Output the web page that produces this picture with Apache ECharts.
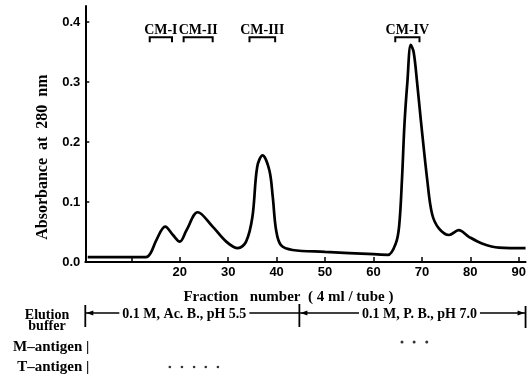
<!DOCTYPE html>
<html><head><meta charset="utf-8">
<script src="https://cdn.jsdelivr.net/npm/echarts@6/dist/echarts.min.js"></script>
<style>html,body{margin:0;padding:0;background:#fff}#c{width:529px;height:377px}</style>
</head><body><div id="c"></div><script>
// ---- data ----
const fractions = [1, 13, 14, 15.2, 17, 18.6, 20, 21.4, 23.7, 26.8, 29.6, 32, 33.7, 35, 36, 37.1, 38.5, 39.2, 39.9, 40.9, 43.3, 50, 60, 63, 64.6, 65.3, 65.9, 66.4, 67.0, 67.7, 68.3, 69.0, 69.8, 71.1, 72.1, 73.5, 75.6, 77.6, 79.7, 82.4, 85.9, 91.4];
const absorbance = [0.008, 0.008, 0.015, 0.037, 0.059, 0.045, 0.034, 0.053, 0.083, 0.059, 0.034, 0.023, 0.034, 0.075, 0.159, 0.178, 0.153, 0.109, 0.053, 0.028, 0.020, 0.017, 0.013, 0.012, 0.031, 0.060, 0.140, 0.230, 0.300, 0.362, 0.350, 0.300, 0.235, 0.137, 0.080, 0.056, 0.045, 0.053, 0.042, 0.031, 0.024, 0.023];
const yTicks = [0, 0.1, 0.2, 0.3, 0.4];
const xTicks = [10, 20, 30, 40, 50, 60, 70, 80, 90];
const xLabels = [20, 30, 40, 50, 60, 70, 80, 90];
const peakNames = ['CM-I', 'CM-II', 'CM-III', 'CM-IV'];
const peakStart = [13.8, 20.8, 34.4, 64.5];
const peakEnd = [18.4, 26.8, 39.7, 69.5];
const bufferBounds = [0.5, 44.7, 91.4];
const bufferNames = ['0.1 M, Ac. B., pH 5.5', '0.1 M, P. B., pH 7.0'];
const antigenRows = ['M–antigen', 'T–antigen'];
const mAntigenFractions = [65.7, 68.2, 70.8];
const tAntigenFractions = [17.9, 20.4, 22.9, 25.3, 27.8];
const yTitle = 'Absorbance  at  280  nm';
const xTitle = 'Fraction   number  ( 4 ml / tube )';
const bufferTitle = 'Elution\nbuffer';

// ---- chart ----
const X_MIN = 0.5, X_MAX = 91.4, Y_MIN = 0, Y_MAX = 0.427;
const BRACKET_Y = 0.375;
const SERIF = '"Liberation Serif", "DejaVu Serif", serif';
const SANS = '"Liberation Sans", Arial, sans-serif';
const chart = echarts.init(document.getElementById('c'), null, {renderer: 'canvas'});
const gridLeft = 85.3, gridWidth = 441.5;

const option = {
  animation: false,
  backgroundColor: '#fff',
  grid: [
    {left: gridLeft, width: gridWidth, top: 6, height: 256},
    {left: gridLeft, width: gridWidth, top: 337, height: 40}
  ],
  xAxis: [
    {type: 'value', gridIndex: 0, min: X_MIN, max: X_MAX,
     axisLine: {show: true, lineStyle: {color: '#000', width: 2}},
     axisTick: {show: true, inside: true, length: 5, lineStyle: {color: '#000', width: 1.5}, customValues: xTicks},
     axisLabel: {show: true, customValues: xLabels, color: '#000', fontFamily: SANS, fontWeight: 'bold', fontSize: 13, margin: 4},
     splitLine: {show: false}},
    {type: 'value', gridIndex: 1, min: X_MIN, max: X_MAX, show: false, splitLine: {show: false}}
  ],
  yAxis: [
    {type: 'value', gridIndex: 0, min: Y_MIN, max: Y_MAX,
     axisLine: {show: true, lineStyle: {color: '#000', width: 2}},
     axisTick: {show: true, inside: true, length: 4, lineStyle: {color: '#000', width: 1.5}, customValues: yTicks},
     axisLabel: {show: true, customValues: yTicks, formatter: v => v.toFixed(1), color: '#000', fontFamily: SANS, fontWeight: 'bold', fontSize: 13, margin: 5},
     splitLine: {show: false}},
    {type: 'category', gridIndex: 1, data: antigenRows, inverse: true,
     axisLine: {show: false}, axisTick: {show: false},
     axisLabel: {interval: 0, formatter: v => v + ' |', color: '#000', fontFamily: SERIF, fontWeight: 'bold', fontSize: 15, margin: -4},
     splitLine: {show: false}}
  ],
  series: [
    {type: 'line', xAxisIndex: 0, yAxisIndex: 0, showSymbol: false, smooth: 0.35,
     lineStyle: {color: '#000', width: 2.7},
     data: fractions.map((f, i) => [f, absorbance[i]])},
    {type: 'custom', xAxisIndex: 0, yAxisIndex: 0,
     data: peakNames.map((n, i) => [peakStart[i], peakEnd[i]]),
     renderItem: function (params, api) {
       const s = api.coord([api.value(0), BRACKET_Y]);
       const e = api.coord([api.value(1), BRACKET_Y]);
       return {type: 'group', children: [
         {type: 'polyline', shape: {points: [[s[0], s[1] + 5], [s[0], s[1]], [e[0], e[1]], [e[0], e[1] + 5]]},
          style: {stroke: '#000', lineWidth: 2, fill: null}},
         {type: 'text', style: {text: peakNames[params.dataIndex], x: (s[0] + e[0]) / 2, y: s[1] - 7,
          align: 'center', verticalAlign: 'middle', font: 'bold 14px ' + SERIF, fill: '#000'}}
       ]};
     }},
    {type: 'scatter', xAxisIndex: 1, yAxisIndex: 1, symbol: 'circle', symbolSize: 3, symbolOffset: [0, -5],
     itemStyle: {color: '#000'}, data: mAntigenFractions.map(f => [f, antigenRows[0]])},
    {type: 'scatter', xAxisIndex: 1, yAxisIndex: 1, symbol: 'circle', symbolSize: 2.6,
     itemStyle: {color: '#000'}, data: tAntigenFractions.map(f => [f, antigenRows[1]])}
  ]
};
chart.setOption(option);

// ---- texts and buffer arrows, placed through the axis scale ----
const px = v => chart.convertToPixel({xAxisIndex: 0}, v);
const yPx = v => chart.convertToPixel({yAxisIndex: 0}, v);
const g = [];
const mid0 = (px(X_MIN) + px(X_MAX)) / 2;
g.push({type: 'text', x: 43, y: (yPx(0) + yPx(0.4)) / 2 + 15, rotation: Math.PI / 2,
  style: {text: yTitle, align: 'center', verticalAlign: 'middle', font: 'bold 16px ' + SERIF, fill: '#000'}});
g.push({type: 'text', x: mid0 - 17, y: 297,
  style: {text: xTitle, align: 'center', verticalAlign: 'middle', font: 'bold 15px ' + SERIF, fill: '#000'}});
g.push({type: 'text', x: 47, y: 321,
  style: {text: bufferTitle, align: 'center', verticalAlign: 'middle', lineHeight: 11, font: 'bold 14px ' + SERIF, fill: '#000'}});
const LY = 313;
const barTop = [305, 304, 306], barBot = [327, 327, 328];
const labelShift = [-8, 7];
bufferBounds.forEach((b, i) => {
  const x = px(b);
  g.push({type: 'line', shape: {x1: x, y1: barTop[i], x2: x, y2: barBot[i]}, style: {stroke: '#000', lineWidth: 1.8}});
});
for (let i = 0; i < bufferNames.length; i++) {
  const x1 = px(bufferBounds[i]), x2 = px(bufferBounds[i + 1]);
  g.push({type: 'line', shape: {x1: x1, y1: LY, x2: x2, y2: LY}, style: {stroke: '#000', lineWidth: 1.5}});
  g.push({type: 'polygon', shape: {points: [[x1 + 1, LY], [x1 + 8, LY - 2.5], [x1 + 8, LY + 2.5]]}, style: {fill: '#000'}});
  g.push({type: 'text', x: (x1 + x2) / 2 + labelShift[i], y: LY + 1,
    style: {text: bufferNames[i], align: 'center', verticalAlign: 'middle', font: 'bold 14px ' + SERIF, fill: '#000',
      backgroundColor: '#fff', padding: [0, 3]}});
}
const xe = px(bufferBounds[bufferBounds.length - 1]);
g.push({type: 'polygon', shape: {points: [[xe - 1, LY], [xe - 8, LY - 2.5], [xe - 8, LY + 2.5]]}, style: {fill: '#000'}});
chart.setOption({graphic: g});
</script></body></html>
